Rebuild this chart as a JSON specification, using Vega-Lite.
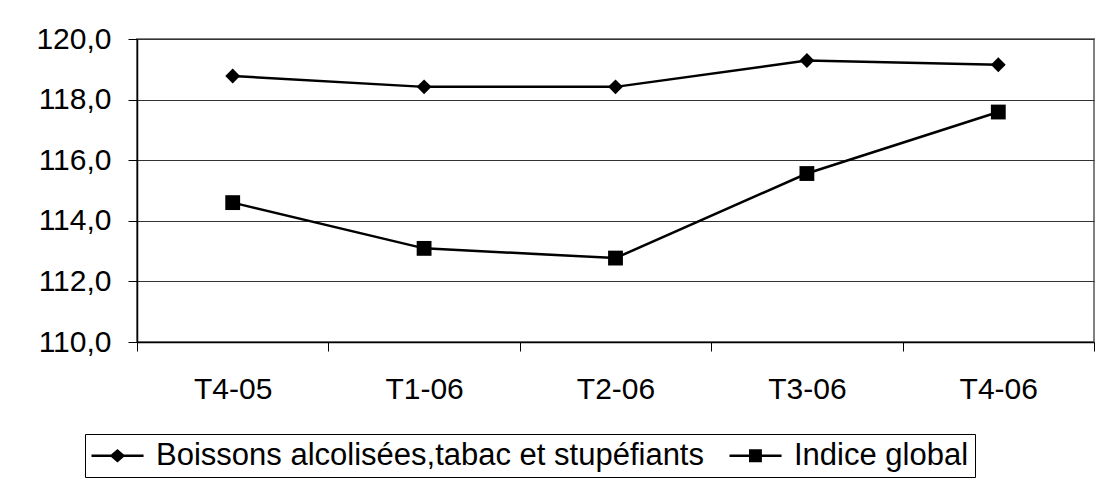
{
  "$schema": "https://vega.github.io/schema/vega-lite/v6.json",
  "width": 957,
  "height": 303,
  "autosize": {"type": "none"},
  "padding": {"left": 137, "top": 39, "right": 7, "bottom": 144},
  "background": "white",
  "config": {
    "font": "Liberation Sans",
    "view": {"stroke": "#808080", "strokeWidth": 2}
  },
  "data": {
    "values": [
      {"quarter": "T4-05", "series": "Boissons alcolisées,tabac et stupéfiants", "value": 118.78},
      {"quarter": "T1-06", "series": "Boissons alcolisées,tabac et stupéfiants", "value": 118.42},
      {"quarter": "T2-06", "series": "Boissons alcolisées,tabac et stupéfiants", "value": 118.42},
      {"quarter": "T3-06", "series": "Boissons alcolisées,tabac et stupéfiants", "value": 119.29},
      {"quarter": "T4-06", "series": "Boissons alcolisées,tabac et stupéfiants", "value": 119.15},
      {"quarter": "T4-05", "series": "Indice global", "value": 114.6},
      {"quarter": "T1-06", "series": "Indice global", "value": 113.09},
      {"quarter": "T2-06", "series": "Indice global", "value": 112.77},
      {"quarter": "T3-06", "series": "Indice global", "value": 115.56},
      {"quarter": "T4-06", "series": "Indice global", "value": 117.59}
    ]
  },
  "encoding": {
    "x": {
      "field": "quarter",
      "type": "ordinal",
      "sort": null,
      "scale": {"type": "band", "paddingInner": 0, "paddingOuter": 0},
      "axis": {
        "title": null,
        "labelAngle": 0,
        "labelFontSize": 30,
        "labelColor": "black",
        "labelPadding": 23,
        "labelBaseline": "top",
        "tickBand": "extent",
        "tickSize": 9,
        "tickColor": "black",
        "tickWidth": 1,
        "domainColor": "black",
        "domainWidth": 1.5,
        "grid": false
      }
    },
    "y": {
      "field": "value",
      "type": "quantitative",
      "scale": {"domain": [110, 120], "zero": false, "nice": false},
      "axis": {
        "title": null,
        "values": [110, 112, 114, 116, 118, 120],
        "labelExpr": "replace(format(datum.value, '.1f'), '.', ',')",
        "labelFontSize": 30,
        "labelColor": "black",
        "labelPadding": 17,
        "tickSize": 9,
        "tickColor": "black",
        "domainColor": "black",
        "domainWidth": 1.5,
        "grid": true,
        "gridColor": "#333333",
        "gridWidth": 1
      }
    }
  },
  "layer": [
    {
      "mark": {"type": "line", "color": "black", "strokeWidth": 2.5},
      "encoding": {"detail": {"field": "series", "type": "nominal"}}
    },
    {
      "mark": {"type": "point", "filled": true, "color": "black", "opacity": 1, "size": 220},
      "encoding": {
        "shape": {
          "field": "series",
          "type": "nominal",
          "sort": null,
          "scale": {
            "domain": ["Boissons alcolisées,tabac et stupéfiants", "Indice global"],
            "range": ["diamond", "square"]
          },
          "legend": null
        }
      }
    },
    {
      "mark": {"type": "point", "filled": true, "color": "black", "opacity": 0},
      "encoding": {
        "shape": {
          "field": "series",
          "type": "nominal",
          "sort": null,
          "scale": {
            "domain": ["Boissons alcolisées,tabac et stupéfiants", "Indice global"],
            "range": [
              "M-1,-0.08H2.47V0.08H-1ZM0.73,-0.45L1.25,0L0.73,0.45L0.21,0Z",
              "M-1,-0.08H2.47V0.08H-1ZM0.3,-0.43H1.16V0.43H0.3Z"
            ]
          },
          "legend": {
            "title": null,
            "orient": "none",
            "legendX": -52,
            "legendY": 395,
            "direction": "horizontal",
            "strokeColor": "black",
            "padding": 6,
            "labelFontSize": 31,
            "labelColor": "black",
            "labelLimit": 2000,
            "labelOffset": 34,
            "columnPadding": 25,
            "symbolSize": 900,
            "symbolStrokeWidth": 0,
            "symbolFillColor": "black",
            "symbolOpacity": 1,
            "encode": {
              "symbols": {
                "update": {
                  "fill": {"value": "black"},
                  "opacity": {"value": 1},
                  "fillOpacity": {"value": 1}
                }
              }
            }
          }
        }
      }
    }
  ],
  "resolve": {"scale": {"shape": "independent"}}
}
